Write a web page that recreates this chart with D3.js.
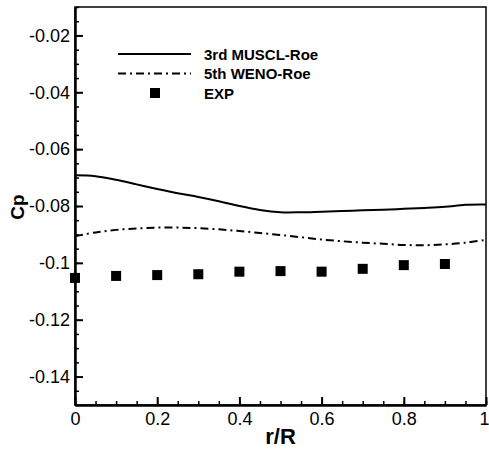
<!DOCTYPE html>
<html>
<head>
<meta charset="utf-8">
<script src="https://cdnjs.cloudflare.com/ajax/libs/d3/7.8.5/d3.min.js"></script>
<style>
  body { margin: 0; background: #fff; }
  svg { font-family: "Liberation Sans", Arial, sans-serif; }
</style>
</head>
<body>
<div id="chart"></div>
<script>
// values
var rLine = [0, 0.05, 0.1, 0.15, 0.2, 0.25, 0.3, 0.35, 0.4, 0.45, 0.5,
             0.55, 0.6, 0.65, 0.7, 0.75, 0.8, 0.85, 0.9, 0.95, 1.0];
var cpMuscl = [-0.0692, -0.0695, -0.0708, -0.0724, -0.0740, -0.0755, -0.0768, -0.0783, -0.0800, -0.0814, -0.0822,
               -0.0822, -0.0820, -0.0818, -0.0815, -0.0813, -0.0810, -0.0807, -0.0803, -0.0796, -0.0795];
var cpWeno = [-0.0906, -0.0893, -0.0884, -0.0879, -0.0876, -0.0876, -0.0878, -0.0882, -0.0888, -0.0895, -0.0902,
              -0.0910, -0.0918, -0.0924, -0.0929, -0.0933, -0.0937, -0.0938, -0.0935, -0.0929, -0.0919];
var rExp = [0, 0.1, 0.2, 0.3, 0.4, 0.5, 0.6, 0.7, 0.8, 0.9];
var cpExp = [-0.1053, -0.1046, -0.1043, -0.1040, -0.1031, -0.1029, -0.1031, -0.1021, -0.1008, -0.1004];

var xTicks = [0, 0.2, 0.4, 0.6, 0.8, 1];
var yTicks = [-0.14, -0.12, -0.1, -0.08, -0.06, -0.04, -0.02];
var legendLabels = ["3rd MUSCL-Roe", "5th WENO-Roe", "EXP"];

var width = 489, height = 450;
var margin = {top: 7, right: 3, bottom: 45, left: 75};
var w = width - margin.left - margin.right,
    h = height - margin.top - margin.bottom;

var svg = d3.select("#chart")
    .append("svg")
    .attr("width", width)
    .attr("height", height);

var g = svg.append("g")
    .attr("transform", "translate(" + margin.left + "," + margin.top + ")");

var x = d3.scaleLinear().domain([0, 1]).range([0, w]);
var y = d3.scaleLinear().domain([-0.15, -0.01]).range([h, 0]);

var fmt = function(d) { return String(+d.toFixed(3)); };

// minor ticks first, labels off
g.append("g")
    .attr("transform", "translate(0," + h + ")")
    .call(d3.axisBottom(x).tickValues(d3.range(0, 1.0001, 0.05)).tickSizeInner(-4).tickSizeOuter(0).tickFormat(""))
    .call(function(a) { a.select(".domain").remove(); a.selectAll("line").attr("stroke-width", 1.5); });

g.append("g")
    .call(d3.axisLeft(y).tickValues(d3.range(-0.15, -0.0099, 0.005)).tickSizeInner(-4).tickSizeOuter(0).tickFormat(""))
    .call(function(a) { a.select(".domain").remove(); a.selectAll("line").attr("stroke-width", 1.5); });

// frame
g.append("rect")
    .attr("width", w)
    .attr("height", h)
    .attr("fill", "none")
    .attr("stroke", "#000")
    .attr("stroke-width", 1.5);

// major axes
var xAxis = g.append("g")
    .attr("transform", "translate(0," + h + ")")
    .call(d3.axisBottom(x).tickValues(xTicks).tickSizeInner(-8).tickSizeOuter(0).tickPadding(7).tickFormat(fmt));

var yAxis = g.append("g")
    .call(d3.axisLeft(y).tickValues(yTicks).tickSizeInner(-8).tickSizeOuter(0).tickPadding(5).tickFormat(fmt));

[xAxis, yAxis].forEach(function(a) {
    a.select(".domain").attr("stroke-width", 2.5);
    a.selectAll(".tick line").attr("stroke-width", 2);
    a.selectAll("text").attr("font-size", 18).attr("fill", "#000")
        .attr("font-family", "Liberation Sans, Arial, sans-serif");
});

// last x label sits at the page edge; keep it inside
xAxis.selectAll(".tick text")
    .filter(function(d) { return d === 1; })
    .attr("text-anchor", "end")
    .attr("x", 3);

// axis titles
svg.append("text")
    .attr("x", margin.left + w / 2)
    .attr("y", 444)
    .attr("text-anchor", "middle")
    .attr("font-size", 22)
    .attr("font-weight", "bold")
    .text("r/R");

svg.append("text")
    .attr("transform", "translate(24," + (margin.top + h / 2 + 1) + ") rotate(-90)")
    .attr("text-anchor", "middle")
    .attr("font-size", 19)
    .attr("font-weight", "bold")
    .text("Cp");

// lines
var line = d3.line()
    .x(function(d) { return x(d[0]); })
    .y(function(d) { return y(d[1]); })
    .curve(d3.curveCatmullRom);

g.append("path")
    .datum(d3.zip(rLine, cpMuscl))
    .attr("d", line)
    .attr("fill", "none")
    .attr("stroke", "#000")
    .attr("stroke-width", 2);

g.append("path")
    .datum(d3.zip(rLine, cpWeno))
    .attr("d", line)
    .attr("fill", "none")
    .attr("stroke", "#000")
    .attr("stroke-width", 2)
    .attr("stroke-dasharray", "8,4,2,4");

// experimental points
var sq = 10;
g.selectAll("rect.exp")
    .data(d3.zip(rExp, cpExp))
    .enter()
    .append("rect")
    .attr("class", "exp")
    .attr("x", function(d) { return x(d[0]) - sq / 2; })
    .attr("y", function(d) { return y(d[1]) - sq / 2; })
    .attr("width", sq)
    .attr("height", sq)
    .attr("fill", "#000");

// legend
var legend = svg.append("g").attr("transform", "translate(118,54)");
var rowH = 19.5;

legend.append("line")
    .attr("x1", 0).attr("x2", 73).attr("y1", 0).attr("y2", 0)
    .attr("stroke", "#000").attr("stroke-width", 2);

legend.append("line")
    .attr("x1", 0).attr("x2", 73).attr("y1", rowH).attr("y2", rowH)
    .attr("stroke", "#000").attr("stroke-width", 2)
    .attr("stroke-dasharray", "8,4,2,4");

legend.append("rect")
    .attr("x", 37 - sq / 2).attr("y", rowH * 2 - sq / 2)
    .attr("width", sq).attr("height", sq)
    .attr("fill", "#000");

legend.selectAll("text")
    .data(legendLabels)
    .enter()
    .append("text")
    .attr("x", 86)
    .attr("y", function(d, i) { return i * rowH + 5.5; })
    .attr("font-size", 15)
    .attr("font-weight", "bold")
    .text(function(d) { return d; });
</script>
</body>
</html>
